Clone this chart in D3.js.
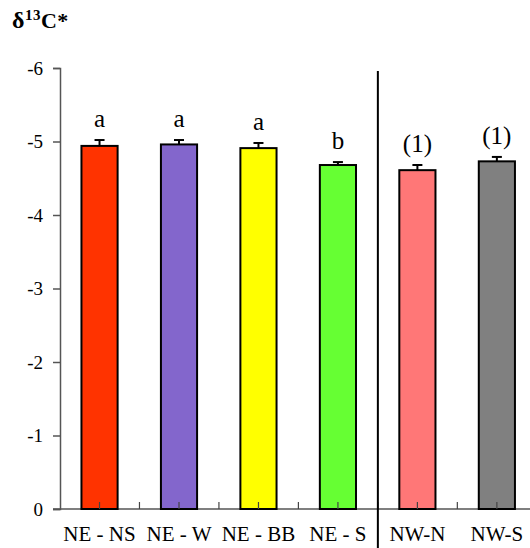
<!DOCTYPE html>
<html>
<head>
<meta charset="utf-8">
<script src="https://cdn.jsdelivr.net/npm/d3@7"></script>
<style>
  body { margin: 0; background: #fff; }
  svg { display: block; }
  svg text { font-family: "Liberation Serif", "Times New Roman", serif; }
</style>
</head>
<body>
<svg id="chart" width="530" height="548"></svg>
<script>
// values (delta 13C, shown as negatives on the axis)
var categories = ["NE - NS", "NE - W", "NE - BB", "NE - S", "NW-N", "NW-S"];
var means = [4.94, 4.96, 4.91, 4.68, 4.61, 4.73];
var errors = [0.08, 0.06, 0.07, 0.04, 0.07, 0.06];
var letters = ["a", "a", "a", "b", "(1)", "(1)"];
var colors = ["#ff3300", "#8366cc", "#ffff00", "#66ff33", "#ff7777", "#808080"];
var yTicks = [0, 1, 2, 3, 4, 5, 6];

var serif = "Liberation Serif, Times New Roman, serif";
var svg = d3.select("#chart");

var x = d3.scaleBand()
  .domain(categories)
  .range([60, 60 + 6 * 79.4])
  .paddingInner(0.545)
  .paddingOuter(0.27);

var y = d3.scaleLinear()
  .domain([0, 6])
  .range([509, 68]);

// title
var title = svg.append("text")
  .attr("x", 12)
  .attr("y", 28)
  .attr("font-family", serif)
  .attr("font-weight", "bold")
  .attr("font-size", 22)
  .attr("letter-spacing", 0.5);
title.append("tspan").attr("font-size", 24).text("δ");
title.append("tspan").attr("font-size", 15).attr("dy", -8).text("13");
title.append("tspan").attr("dy", 8).text("C*");

// y axis
var yAxis = d3.axisLeft(y)
  .tickValues(yTicks)
  .tickSize(7)
  .tickPadding(10)
  .tickFormat(function(d) { return d === 0 ? "0" : "-" + d; });

var gy = svg.append("g")
  .attr("transform", "translate(60,0)")
  .call(yAxis)
  .attr("font-family", serif);
gy.select(".domain").attr("stroke", "#555").attr("stroke-width", 1.5);
gy.selectAll(".tick line").attr("stroke", "#555").attr("stroke-width", 1.5);
gy.selectAll(".tick text")
  .attr("font-size", 19)
  .attr("fill", "#000");

// x axis line
svg.append("line")
  .attr("x1", 53).attr("x2", 530)
  .attr("y1", y(0)).attr("y2", y(0))
  .attr("stroke", "#555").attr("stroke-width", 1.5);

// small ticks at category boundaries and centres
var step = x.step();
var tickXs = [];
categories.forEach(function(c, i) {
  var left = x.range()[0] + i * step;
  if (i > 0) tickXs.push(left);
  tickXs.push(x(c) + x.bandwidth() / 2);
});
tickXs.push(x.range()[0] + 6 * step);

// bars
svg.selectAll("rect.bar")
  .data(means)
  .enter()
  .append("rect")
  .attr("class", "bar")
  .attr("x", function(d, i) { return x(categories[i]); })
  .attr("y", function(d) { return y(d); })
  .attr("width", x.bandwidth())
  .attr("height", function(d) { return y(0) - y(d); })
  .attr("fill", function(d, i) { return colors[i]; })
  .attr("stroke", "#000")
  .attr("stroke-width", 2);

svg.selectAll("line.xtick")
  .data(tickXs)
  .enter()
  .append("line")
  .attr("class", "xtick")
  .attr("x1", function(d) { return d; })
  .attr("x2", function(d) { return d; })
  .attr("y1", y(0))
  .attr("y2", y(0) - 7)
  .attr("stroke", "#444")
  .attr("stroke-width", 1.2);

// error bars (upper half only)
var err = svg.append("g");
means.forEach(function(m, i) {
  var cx = x(categories[i]) + x.bandwidth() / 2;
  err.append("line")
    .attr("x1", cx).attr("x2", cx)
    .attr("y1", y(m)).attr("y2", y(m + errors[i]))
    .attr("stroke", "#000").attr("stroke-width", 2);
  err.append("line")
    .attr("x1", cx - 5).attr("x2", cx + 5)
    .attr("y1", y(m + errors[i])).attr("y2", y(m + errors[i]))
    .attr("stroke", "#000").attr("stroke-width", 2);
});

// significance letters
svg.selectAll("text.letter")
  .data(letters)
  .enter()
  .append("text")
  .attr("class", "letter")
  .attr("x", function(d, i) { return x(categories[i]) + x.bandwidth() / 2; })
  .attr("y", function(d, i) { return y(means[i] + errors[i]) - 13; })
  .attr("text-anchor", "middle")
  .attr("font-family", serif)
  .attr("font-size", 25)
  .text(function(d) { return d; });

// category labels
svg.selectAll("text.cat")
  .data(categories)
  .enter()
  .append("text")
  .attr("class", "cat")
  .attr("x", function(d) { return x(d) + x.bandwidth() / 2; })
  .attr("y", 541)
  .attr("text-anchor", "middle")
  .attr("font-family", serif)
  .attr("font-size", 21)
  .text(function(d) { return d; });

// separator between NE and NW groups
var sepX = x.range()[0] + 4 * step;
svg.append("line")
  .attr("x1", sepX).attr("x2", sepX)
  .attr("y1", 71).attr("y2", 548)
  .attr("stroke", "#000").attr("stroke-width", 2);
</script>
</body>
</html>
